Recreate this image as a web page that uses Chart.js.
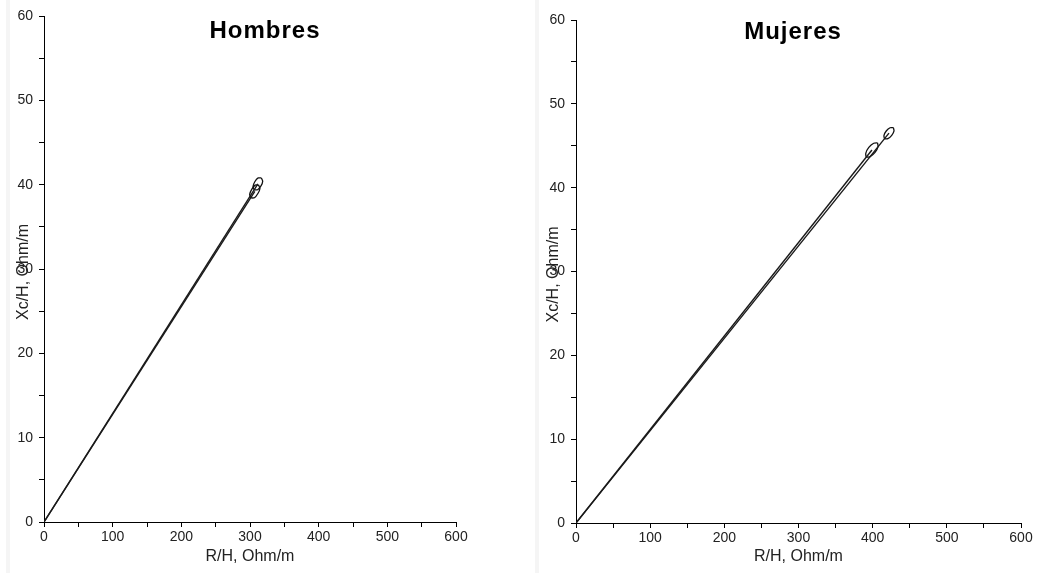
<!DOCTYPE html>
<html>
<head>
<meta charset="utf-8">
<script src="https://cdn.jsdelivr.net/npm/chart.js@4/dist/chart.umd.min.js"></script>
<style>
  html, body { margin: 0; padding: 0; background: #fff; }
  #wrap { position: relative; width: 1039px; height: 575px; overflow: hidden; }
  canvas { position: absolute; top: 0; }
  #c1 { left: 0; }
  #c2 { left: 520px; }
  .edge { position: absolute; top: 0; height: 573px; width: 4px; background: #f5f5f5; }
</style>
</head>
<body>
<div id="wrap">
  <div class="edge" style="left:6px"></div>
  <div class="edge" style="left:535px"></div>
  <canvas id="c1" width="520" height="575"></canvas>
  <canvas id="c2" width="519" height="575"></canvas>
</div>
<script>
// Axis ranges and tick settings
const xRange = [0, 600];
const yRange = [0, 60];
const xStep = 50, xLabelEvery = 100;
const yStep = 5, yLabelEvery = 10;

// Panel titles and axis captions
const panelTitles = ['Hombres', 'Mujeres'];
const xCaption = 'R/H, Ohm/m';
const yCaption = 'Xc/H, Ohm/m';

// Mean vector end points (R/H, Xc/H) for each group
const hombresMedias = [[307, 39.2], [311.5, 40.1]];
const mujeresMedias = [[399, 44.5], [422, 46.5]];

// Confidence ellipse outlines (R/H, Xc/H)
const hombresElipse1 = [[312.5, 39.95], [314.5, 39.55], [311.5, 38.95], [306.5, 38.45], [301.5, 38.45], [299.5, 38.85], [302.5, 39.45], [307.5, 39.95]];
const hombresElipse2 = [[316.5, 40.8], [318.5, 40.4], [316, 39.85], [311, 39.4], [306.5, 39.4], [304.5, 39.8], [307, 40.35], [312, 40.8]];
const mujeresElipse1 = [[406.5, 45.35], [407.3, 44.9], [403.2, 44.2], [396.6, 43.7], [391.5, 43.65], [390.7, 44.1], [394.8, 44.8], [401.4, 45.3]];
const mujeresElipse2 = [[427.9, 47.15], [428.8, 46.78], [425.7, 46.24], [420.5, 45.85], [416.1, 45.85], [415.2, 46.22], [418.3, 46.76], [423.5, 47.15]];

const toPts = arr => arr.map(p => ({ x: p[0], y: p[1] }));
const closed = arr => toPts(arr.concat([arr[0]]));

function vectorSet(end) {
  return {
    data: [{ x: 0, y: 0 }, { x: end[0], y: end[1] }],
    borderColor: '#1a1a1a', borderWidth: 1.4, showLine: true,
    pointRadius: 0, tension: 0
  };
}
function ellipseSet(pts) {
  return {
    data: closed(pts),
    borderColor: '#111', borderWidth: 1.3, showLine: true,
    pointRadius: 0, tension: 0.2
  };
}

// Draws the panel title and the axis captions inside the canvas
const captionPlugin = {
  id: 'captions',
  afterDraw(chart, args, opts) {
    const { ctx, chartArea } = chart;
    ctx.save();
    ctx.fillStyle = '#000';
    ctx.textAlign = 'center';
    ctx.textBaseline = 'middle';
    ctx.font = 'bold 24px "Liberation Sans", Arial, sans-serif';
    if ('letterSpacing' in ctx) ctx.letterSpacing = '1px';
    ctx.fillText(opts.title, opts.titleX, opts.titleY);
    if ('letterSpacing' in ctx) ctx.letterSpacing = '0px';
    ctx.fillStyle = '#222';
    ctx.font = '16px "Liberation Sans", Arial, sans-serif';
    ctx.fillText(xCaption, (chartArea.left + chartArea.right) / 2, opts.xCapY);
    ctx.translate(opts.yCapX, (chartArea.top + chartArea.bottom) / 2 + 3);
    ctx.rotate(-Math.PI / 2);
    ctx.fillText(yCaption, 0, 0);
    ctx.restore();
  }
};

function makeChart(id, sets, cfg) {
  const tickFont = { family: '"Liberation Sans", Arial, sans-serif', size: 14 };
  return new Chart(document.getElementById(id), {
    type: 'scatter',
    data: { datasets: sets },
    options: {
      responsive: false,
      animation: false,
      devicePixelRatio: 1,
      layout: { padding: { top: cfg.top, right: cfg.right, left: 0, bottom: 0 } },
      plugins: {
        legend: { display: false },
        tooltip: { enabled: false },
        captions: cfg.captions
      },
      scales: {
        x: {
          type: 'linear', min: xRange[0], max: xRange[1],
          afterFit: s => { s.height = cfg.xHeight; },
          ticks: {
            stepSize: xStep, autoSkip: false, maxRotation: 0, padding: 2,
            color: '#222', font: tickFont,
            callback: v => (v % xLabelEvery === 0 ? String(v) : '')
          },
          grid: { display: true, drawOnChartArea: false, drawTicks: true, tickLength: 5, tickColor: '#000' },
          border: { display: true, color: '#000', width: 1 }
        },
        y: {
          type: 'linear', min: yRange[0], max: yRange[1],
          afterFit: s => { s.width = cfg.yWidth; },
          ticks: {
            stepSize: yStep, autoSkip: false, padding: 6,
            color: '#222', font: tickFont,
            callback: v => (v % yLabelEvery === 0 ? String(v) : '')
          },
          grid: { display: true, drawOnChartArea: false, drawTicks: true, tickLength: 5, tickColor: '#000' },
          border: { display: true, color: '#000', width: 1 }
        }
      }
    },
    plugins: [captionPlugin]
  });
}

makeChart('c1',
  [vectorSet(hombresMedias[0]), vectorSet(hombresMedias[1]),
   ellipseSet(hombresElipse1), ellipseSet(hombresElipse2)],
  { top: 16, right: 64, yWidth: 44, xHeight: 53,
    captions: { title: panelTitles[0], titleX: 265, titleY: 31, xCapY: 557, yCapX: 24 } });

makeChart('c2',
  [vectorSet(mujeresMedias[0]), vectorSet(mujeresMedias[1]),
   ellipseSet(mujeresElipse1), ellipseSet(mujeresElipse2)],
  { top: 20, right: 18, yWidth: 56, xHeight: 52,
    captions: { title: panelTitles[1], titleX: 273, titleY: 32, xCapY: 557, yCapX: 34 } });
</script>
</body>
</html>
